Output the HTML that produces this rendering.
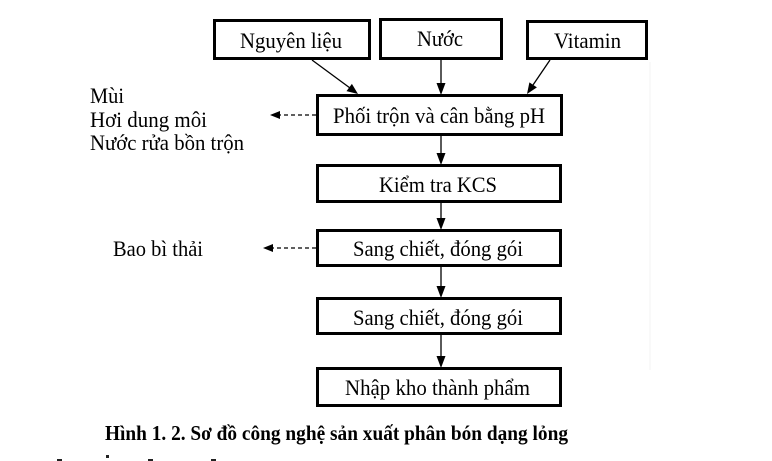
<!DOCTYPE html>
<html><head><meta charset="utf-8"><style>
html,body{margin:0;padding:0;background:#fff;}
svg{display:block;}
text{font-family:"Liberation Serif","DejaVu Serif",serif;fill:#000;}
</style></head><body>
<svg width="772" height="461" viewBox="0 0 772 461" xmlns="http://www.w3.org/2000/svg">
<rect width="772" height="461" fill="#fff"/>
<line x1="650" y1="62" x2="650" y2="370" stroke="#f3f3f3" stroke-width="1"/>
<g fill="none" stroke="#000" stroke-width="3">
<rect x="214.5" y="20.5" width="155" height="38"/>
<rect x="380.5" y="19.5" width="121" height="39"/>
<rect x="527.5" y="21.5" width="119" height="37"/>
<rect x="317.5" y="95.5" width="244" height="39"/>
<rect x="317.5" y="165.5" width="243" height="36"/>
<rect x="317.5" y="230.5" width="243" height="35"/>
<rect x="317.5" y="298.5" width="243" height="35"/>
<rect x="317.5" y="368.5" width="243" height="37"/>
</g>
<g stroke="#000" stroke-width="1.3" fill="none">
<line x1="312" y1="60" x2="350" y2="88"/>
<line x1="441" y1="60" x2="441" y2="84"/>
<line x1="550" y1="60" x2="533" y2="85"/>
<line x1="441" y1="136" x2="441" y2="154"/>
<line x1="441" y1="203" x2="441" y2="219"/>
<line x1="441" y1="267" x2="441" y2="287"/>
<line x1="441" y1="335" x2="441" y2="357"/>
<line x1="316" y1="115" x2="279" y2="115" stroke-dasharray="4,3"/>
<line x1="316" y1="248" x2="272" y2="248" stroke-dasharray="4,3"/>
</g>
<g fill="#000">
<polygon points="358,94 346.5,91.1 351.9,83.9"/>
<polygon points="441,95 436.5,83 445.5,83"/>
<polygon points="527,94 529.4,82.4 536.9,87.4"/>
<polygon points="441,165 436.5,153 445.5,153"/>
<polygon points="441,230 436.5,218 445.5,218"/>
<polygon points="441,298 436.5,286 445.5,286"/>
<polygon points="441,368 436.5,356 445.5,356"/>
<polygon points="270,115 280,111 280,119"/>
<polygon points="263,248 273,244 273,252"/>
</g>
<g font-size="22">
<text x="240" y="48" textLength="102" lengthAdjust="spacingAndGlyphs">Nguyên liệu</text>
<text x="417" y="46" textLength="46" lengthAdjust="spacingAndGlyphs">Nước</text>
<text x="554" y="48" textLength="67" lengthAdjust="spacingAndGlyphs">Vitamin</text>
<text x="333" y="123" textLength="212" lengthAdjust="spacingAndGlyphs">Phối trộn và cân bằng pH</text>
<text x="379" y="192" textLength="118" lengthAdjust="spacingAndGlyphs">Kiểm tra KCS</text>
<text x="353" y="256" textLength="170" lengthAdjust="spacingAndGlyphs">Sang chiết, đóng gói</text>
<text x="353" y="325" textLength="170" lengthAdjust="spacingAndGlyphs">Sang chiết, đóng gói</text>
<text x="345" y="395" textLength="185" lengthAdjust="spacingAndGlyphs">Nhập kho thành phẩm</text>
<text x="90" y="103" textLength="34" lengthAdjust="spacingAndGlyphs">Mùi</text>
<text x="90" y="127" textLength="117" lengthAdjust="spacingAndGlyphs">Hơi dung môi</text>
<text x="90" y="150" textLength="154" lengthAdjust="spacingAndGlyphs">Nước rửa bồn trộn</text>
<text x="113" y="256" textLength="90" lengthAdjust="spacingAndGlyphs">Bao bì thải</text>
</g>
<text x="105" y="440" font-size="21" font-weight="bold" textLength="463" lengthAdjust="spacingAndGlyphs">Hình 1. 2. Sơ đồ công nghệ sản xuất phân bón dạng lỏng</text>
<g fill="#222">
<rect x="57" y="459" width="5" height="2"/>
<rect x="106" y="455" width="3" height="3"/>
<rect x="148" y="459" width="5" height="2"/>
<rect x="211" y="459" width="5" height="2"/>
</g>
</svg>
</body></html>
